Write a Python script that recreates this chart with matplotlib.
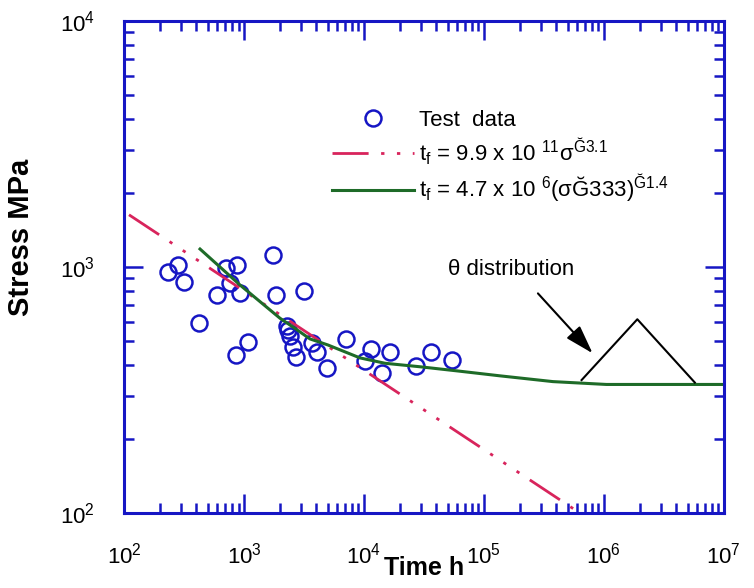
import numpy as np
import matplotlib
matplotlib.use('Agg')
from matplotlib import pyplot as plt
from matplotlib.ticker import LogLocator, NullFormatter

plt.rcParams['font.family'] = ['Liberation Sans', 'DejaVu Sans']
plt.rcParams['mathtext.fontset'] = 'custom'
plt.rcParams['mathtext.rm'] = 'Liberation Sans'
plt.rcParams['mathtext.it'] = 'Liberation Sans:italic'
plt.rcParams['mathtext.bf'] = 'Liberation Sans:bold'

# test data (time h, stress MPa)
test_t = [234, 283, 318, 424, 592, 708, 869, 764, 926, 853, 1086, 1754, 1858,
          3181, 2270, 2340, 2417, 2576, 2711, 3706, 4034, 4945, 7080, 11370,
          10190, 16470, 14210, 27100, 35940, 54500]
test_s = [957, 1019, 871, 590, 769, 988, 1019, 859, 786, 439, 497, 1119, 769,
          798, 575, 555, 524, 472, 430, 490, 453, 390, 508, 463,
          415, 450, 370, 397, 450, 419]

# power law fit (red) - end points
pl_t = [110, 6.3e5]
pl_s = [1630, 100]

# theta-projection fit (green)
th_t = [430, 926, 1995, 2700, 3548, 5000, 9260, 15000, 29300, 6.0e4, 1.36e5,
        3.76e5, 1.05e6, 1e7]
th_s = [1183, 845, 619, 560, 510, 482, 427, 406, 393, 378, 361,
        342, 333, 333]

# theta distribution sketch
tri_t = [6.52e5, 1.9e6, 5.73e6]
tri_s = [347, 613, 339]
arrow_tail = (2.82e5, 781)
arrow_tip = (8.05e5, 446)

blue = '#1616c4'
red = '#d8245c'
green = '#1e6b28'

fig = plt.figure(figsize=(7.54, 5.88), dpi=100)
ax = fig.add_axes([0.1645, 0.1276, 0.7955, 0.8367])

ax.plot(test_t, test_s, 'o', ls='none', mfc='none', mec=blue, ms=11.5, mew=1.8,
        label='Test  data')
ax.plot(pl_t, pl_s, color=red, lw=2,
        ls=(0, (13, 4.5, 1.2, 4.5, 1.2, 4.5, 1.2, 4.5)),
        label=r'$\mathregular{t_f}$ = 9.9 x 10 $\mathregular{^{11}}$σ$\mathregular{^{Ğ3.1}}$')
ax.plot(th_t, th_s, color=green, lw=2.2,
        label=r'$\mathregular{t_f}$ = 4.7 x 10 $\mathregular{^{6}}$(σĞ333)$\mathregular{^{Ğ1.4}}$')

ax.plot(tri_t, tri_s, color='k', lw=1.5)
ax.annotate('', xy=arrow_tip, xytext=arrow_tail,
            arrowprops=dict(arrowstyle='-|>,head_length=0.7,head_width=0.22',
                            color='k', lw=1.5, mutation_scale=25, shrinkA=0, shrinkB=0))
ax.text(5.0e4, 973, 'θ distribution', va='center', ha='left', fontsize=16)

ax.set_xscale('log')
ax.set_yscale('log')
ax.set_xlim(1e2, 1e7)
ax.set_ylim(1e2, 1e4)

ax.xaxis.set_major_locator(LogLocator(base=10, numticks=10))
ax.xaxis.set_minor_locator(LogLocator(base=10, subs=np.arange(2, 10), numticks=20))
ax.yaxis.set_minor_locator(LogLocator(base=10, subs=np.arange(2, 10), numticks=20))
ax.xaxis.set_minor_formatter(NullFormatter())
ax.yaxis.set_minor_formatter(NullFormatter())

for s in ax.spines.values():
    s.set_color(blue)
    s.set_linewidth(2.2)
ax.tick_params(which='both', direction='in', top=True, right=True, color=blue,
               width=1.8, labelsize=16)
ax.tick_params(which='major', length=14)
ax.tick_params(which='minor', length=7)
ax.tick_params(axis='x', which='major', pad=21)
ax.tick_params(axis='y', which='major', pad=21)

ax.set_xlabel('Time h', fontsize=18, fontweight='bold')
ax.set_ylabel('Stress MPa', fontsize=21, fontweight='bold')
ax.xaxis.set_label_coords(0.5, -0.088)
ax.yaxis.set_label_coords(-0.148, 0.561)

ax.legend(loc='upper left', bbox_to_anchor=(0.347, 0.82), frameon=False,
          fontsize=16, handlelength=3.7, handletextpad=0.2, labelspacing=0.25,
          borderpad=0, borderaxespad=0, numpoints=1)

fig.savefig('out.png', dpi=100)
